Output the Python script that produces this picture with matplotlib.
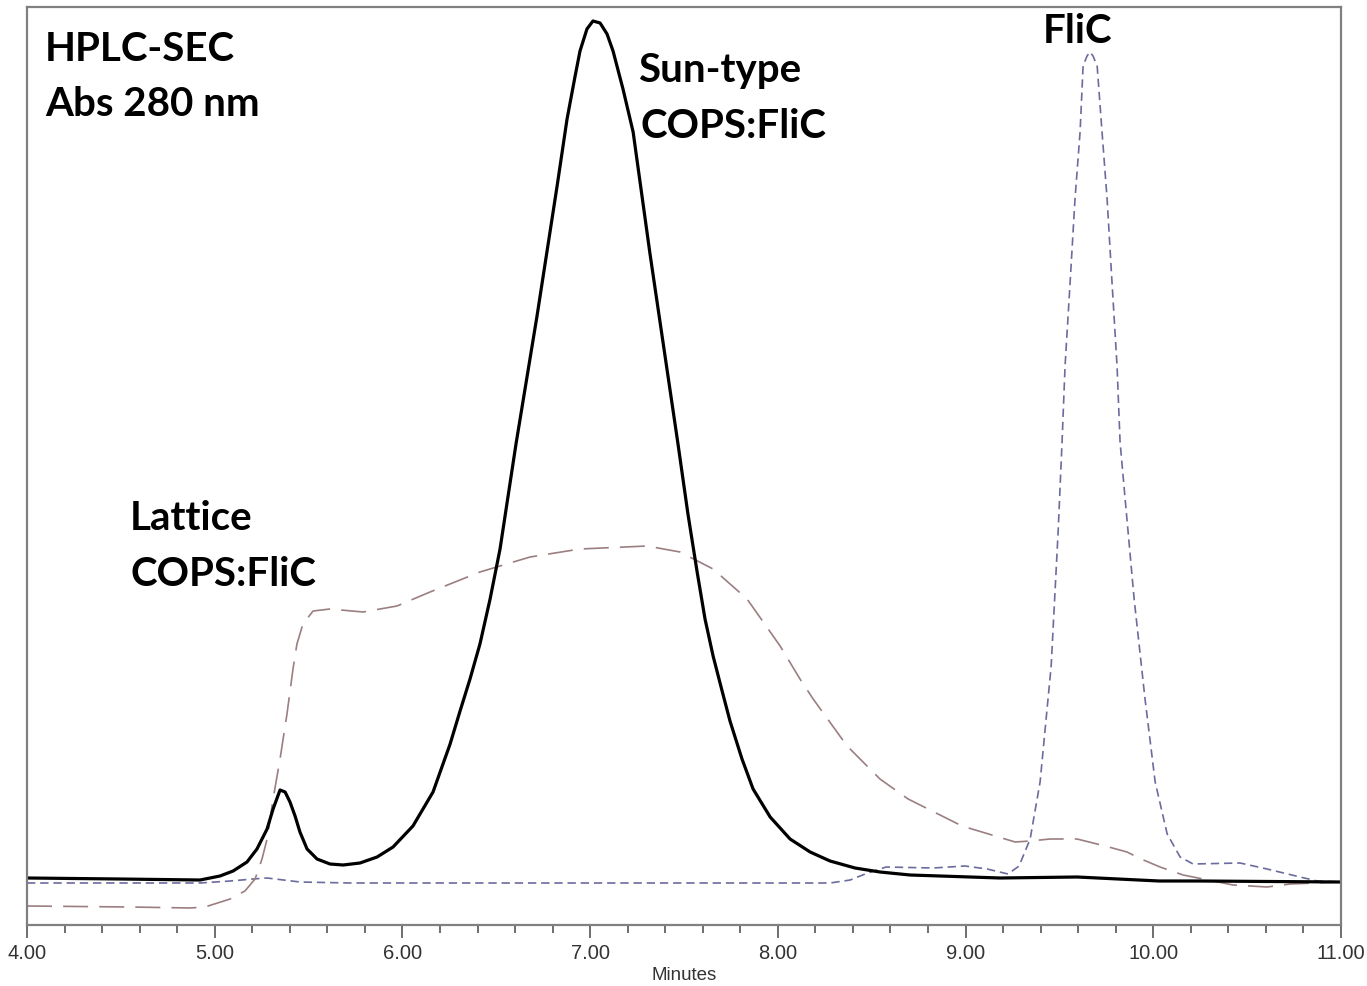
import matplotlib
matplotlib.use("Agg")
import matplotlib.pyplot as plt

# retention time (min) and absorbance (arbitrary units)
sun_t = [4.000, 4.495, 4.922, 5.028, 5.098, 5.172, 5.225, 5.279, 5.311, 5.348,
         5.375, 5.401, 5.428, 5.454, 5.492, 5.545, 5.614, 5.684, 5.774, 5.865,
         5.950, 6.056, 6.163, 6.254, 6.307, 6.360, 6.413, 6.467, 6.520, 6.605,
         6.717, 6.824, 6.877, 6.920, 6.946, 6.983, 7.015, 7.053, 7.090, 7.122,
         7.175, 7.229, 7.319, 7.468, 7.521, 7.570, 7.612, 7.655, 7.703, 7.745,
         7.809, 7.868, 7.959, 8.065, 8.172, 8.278, 8.411, 8.544, 8.704, 9.184,
         9.594, 10.031, 10.249, 11.000]
sun_a = [1, 0, -1, 3, 8, 17, 30, 50, 70, 89,
         87, 77, 63, 47, 30, 20, 15, 14, 16, 22,
         32, 53, 87, 135, 168, 200, 235, 280, 330, 435,
         563, 693, 760, 803, 828, 850, 858, 856, 845, 828,
         790, 747, 625, 435, 365, 307, 260, 223, 188, 158,
         120, 90, 62, 40, 27, 18, 11, 7, 4, 1,
         2, -2, -2, -3]

lat_t = [4.000, 4.549, 4.868, 4.948, 5.082, 5.161, 5.215, 5.252, 5.279, 5.311,
         5.348, 5.385, 5.417, 5.438, 5.470, 5.524, 5.614, 5.790, 5.971, 6.147,
         6.413, 6.680, 6.946, 7.303, 7.479, 7.655, 7.836, 8.012, 8.118, 8.188,
         8.369, 8.544, 8.694, 8.981, 9.264, 9.344, 9.450, 9.594, 9.743, 9.860,
         9.935, 10.036, 10.159, 10.425, 10.606, 10.729, 11.000]
lat_a = [-27, -28, -29, -28, -20, -12, 0, 20, 40, 80,
         120, 165, 210, 235, 255, 268, 270, 267, 273, 287,
         307, 322, 330, 333, 327, 310, 280, 233, 200, 180,
         133, 100, 80, 53, 37, 38, 40, 40, 33, 27,
         20, 12, 4, -6, -8, -5, -3]

flic_t = [4.000, 4.922, 5.082, 5.204, 5.279, 5.454, 5.721, 8.278, 8.385, 8.465,
          8.577, 8.827, 8.997, 9.115, 9.226, 9.285, 9.344, 9.397, 9.456, 9.493,
          9.514, 9.530, 9.557, 9.583, 9.610, 9.626, 9.647, 9.663, 9.679, 9.701,
          9.727, 9.754, 9.780, 9.807, 9.823, 9.850, 9.898, 9.956, 10.010, 10.074,
          10.143, 10.212, 10.462, 10.606, 10.782, 10.873, 11.000]
flic_a = [-4, -4, -2, 0, 1, -3, -4, -4, -1, 5,
          12, 11, 13, 10, 5, 13, 40, 97, 213, 347,
          437, 513, 597, 680, 747, 813, 823, 827, 823, 813,
          747, 680, 597, 513, 437, 380, 280, 180, 97, 45,
          22, 15, 16, 10, 2, -2, -3]

xticks = [4, 5, 6, 7, 8, 9, 10, 11]
xticklabels = ["4.00", "5.00", "6.00", "7.00", "8.00", "9.00", "10.00", "11.00"]

plt.rcParams["lines.scale_dashes"] = False

W, H = 1367, 987
fig = plt.figure(figsize=(W / 100, H / 100), dpi=100)
ax = fig.add_axes([27 / W, 1 - 926 / H, (1341 - 27) / W, (926 - 8) / H])

ax.plot(flic_t, flic_a, color="#6b6b9e", lw=1.2, dashes=(6, 3.5))
ax.plot(lat_t, lat_a, color="#9b7f80", lw=1.2, dashes=(18, 8))
ax.plot(sun_t, sun_a, color="black", lw=2.3, solid_joinstyle="round")

ax.set_xlim(4, 11)
ax.set_ylim(-46, 872)
ax.set_yticks([])
ax.set_xticks(xticks)
ax.set_xticklabels(xticklabels, fontsize=14.5, family="Liberation Sans", color="#333333")
ax.set_xticks([4 + 0.2 * i for i in range(36)], minor=True)
ax.tick_params(axis="x", which="major", length=9, width=1.2, color="#555555", pad=4)
ax.tick_params(axis="x", which="minor", length=6, width=1.2, color="#555555")
for s in ax.spines.values():
    s.set_color("#808080")
    s.set_linewidth(1.6)

fig.text(684 / W, 1 - 976 / H, "Minutes", ha="center", va="center",
         fontsize=13.5, family="Liberation Sans", color="#333333")

lab = dict(fontsize=29, fontweight="bold", family="Lato", va="baseline", ha="left")


def put(px, py, s):
    fig.text(px / W, 1 - py / H, s, **lab)


put(45, 61, "HPLC-SEC")
put(45, 116, "Abs 280 nm")
put(638, 82, "Sun-type")
put(640, 138, "COPS:FliC")
put(130, 530, "Lattice")
put(130, 586, "COPS:FliC")
put(1043, 43, "FliC")

fig.savefig("out.png", dpi=100)
